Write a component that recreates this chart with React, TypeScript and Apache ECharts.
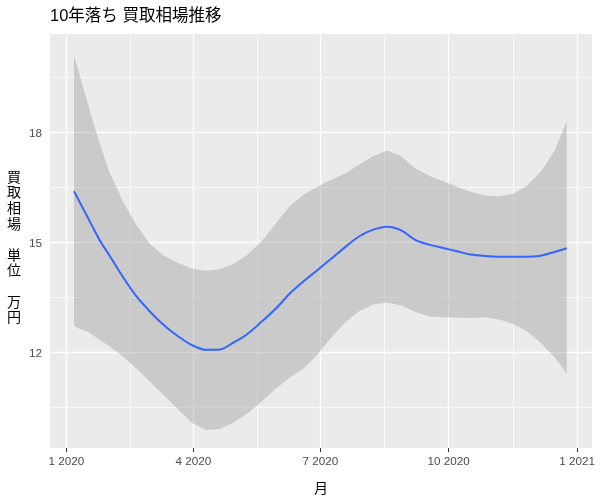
import React, { useEffect, useRef } from "react";
import * as echarts from "echarts";

// Days since 1 Jan 2020
const days = [5.5, 10, 15, 20, 25, 30, 40, 50, 60, 70, 80, 90, 100, 110, 120, 130, 140, 150, 160, 170, 180, 190, 200, 210, 220, 230, 240, 250, 260, 270, 280, 290, 300, 310, 320, 330, 340, 350, 358.6];
const fitValues = [16.39, 16.06, 15.70, 15.33, 14.98, 14.69, 14.08, 13.53, 13.10, 12.73, 12.43, 12.19, 12.06, 12.07, 12.26, 12.50, 12.83, 13.18, 13.59, 13.93, 14.24, 14.55, 14.87, 15.16, 15.34, 15.42, 15.32, 15.06, 14.93, 14.84, 14.75, 14.66, 14.62, 14.60, 14.60, 14.60, 14.63, 14.73, 14.83];
const lowerValues = [12.70, 12.63, 12.56, 12.44, 12.31, 12.18, 11.90, 11.56, 11.19, 10.81, 10.44, 10.07, 9.87, 9.90, 10.08, 10.33, 10.65, 11.00, 11.30, 11.55, 11.93, 12.40, 12.81, 13.12, 13.30, 13.35, 13.27, 13.10, 12.97, 12.95, 12.94, 12.93, 12.95, 12.89, 12.77, 12.57, 12.25, 11.85, 11.41];
const upperValues = [20.10, 19.50, 18.83, 18.18, 17.57, 17.00, 16.15, 15.48, 14.95, 14.63, 14.43, 14.28, 14.22, 14.26, 14.41, 14.66, 15.02, 15.50, 15.98, 16.29, 16.51, 16.70, 16.88, 17.12, 17.35, 17.50, 17.34, 17.01, 16.81, 16.67, 16.51, 16.37, 16.27, 16.25, 16.31, 16.54, 16.92, 17.50, 18.30];

const xTickDays = [0, 91, 182, 274, 366];
const xTickLabels = ["1 2020", "4 2020", "7 2020", "10 2020", "1 2021"];
const xMinorDays = [45.5, 136.5, 228, 320];
const yTicks = [12, 15, 18];
const yMinor = [10.5, 13.5, 16.5, 19.5];

const titleText = "10年落ち 買取相場推移";
const xAxisTitle = "月";
const yAxisTitleChars = ["買", "取", "相", "場", "", "単", "位", "", "万", "円"];

const FONT = "'Liberation Sans', Arial, 'Noto Sans CJK JP', sans-serif";

export default function App() {
  const ref = useRef<HTMLDivElement>(null);
  useEffect(() => {
    if (!ref.current) return;
    const chart = echarts.init(ref.current, null, { renderer: "svg" });
    const labelMap: Record<string, string> = {};
    xTickDays.forEach((d, i) => (labelMap[String(d)] = xTickLabels[i]));

    const gridLines: any[] = [];
    xTickDays.forEach((d) => gridLines.push({ xAxis: d, lineStyle: { width: 1.4 } }));
    xMinorDays.forEach((d) => gridLines.push({ xAxis: d, lineStyle: { width: 0.7 } }));
    yTicks.forEach((v) => gridLines.push({ yAxis: v, lineStyle: { width: 1.4 } }));
    yMinor.forEach((v) => gridLines.push({ yAxis: v, lineStyle: { width: 0.7 } }));

    const option: any = {
      animation: false,
      textStyle: { fontFamily: FONT },
      title: {
        text: titleText,
        left: 45,
        top: 2,
        textStyle: { fontSize: 16.5, fontWeight: "normal", color: "#000", fontFamily: FONT },
      },
      grid: {
        left: 50,
        right: 8,
        top: 34,
        bottom: 45,
        show: true,
        backgroundColor: "#EBEBEB",
        borderWidth: 0,
      },
      xAxis: {
        type: "value",
        min: -11.7,
        max: 376.7,
        name: xAxisTitle,
        nameLocation: "middle",
        nameGap: 33,
        nameTextStyle: { color: "#000", fontSize: 14, fontFamily: FONT },
        axisLine: { show: false },
        splitLine: { show: false },
        axisTick: { show: true, length: 4, lineStyle: { color: "#333333", width: 1 }, customValues: xTickDays },
        axisLabel: {
          customValues: xTickDays,
          margin: 7,
          color: "#4D4D4D",
          fontSize: 11.7,
          fontFamily: FONT,
          formatter: (v: number) => labelMap[String(v)] ?? "",
        },
      },
      yAxis: {
        type: "value",
        min: 9.38,
        max: 20.68,
        axisLine: { show: false },
        splitLine: { show: false },
        axisTick: { show: true, length: 4, lineStyle: { color: "#333333", width: 1 }, customValues: yTicks },
        axisLabel: {
          customValues: yTicks,
          margin: 8,
          color: "#4D4D4D",
          fontSize: 11.7,
          fontFamily: FONT,
        },
      },
      graphic: [
        {
          type: "text",
          left: 7,
          top: 169,
          style: {
            text: yAxisTitleChars.join("\n"),
            fontSize: 14,
            lineHeight: 15.6,
            fill: "#000",
            fontFamily: FONT,
          },
        },
      ],
      series: [
        {
          type: "line",
          data: [],
          silent: true,
          z: 1,
          markLine: {
            silent: true,
            symbol: "none",
            z: 1,
            label: { show: false },
            lineStyle: { color: "#FFFFFF", type: "solid" },
            data: gridLines,
          },
        },
        {
          type: "custom",
          z: 2,
          silent: true,
          data: [[days[0], lowerValues[0]]],
          renderItem: (params: any, api: any) => {
            const pts: number[][] = [];
            for (let i = 0; i < days.length; i++) pts.push(api.coord([days[i], upperValues[i]]));
            for (let i = days.length - 1; i >= 0; i--) pts.push(api.coord([days[i], lowerValues[i]]));
            return {
              type: "polygon",
              shape: { points: pts, smooth: 0 },
              style: { fill: "rgba(153,153,153,0.4)", stroke: "none" },
            };
          },
        },
        {
          type: "line",
          z: 3,
          showSymbol: false,
          smooth: 0.3,
          lineStyle: { color: "#3366FF", width: 2 },
          data: days.map((d, i) => [d, fitValues[i]]),
        },
      ],
    };
    chart.setOption(option);
    return () => chart.dispose();
  }, []);
  return <div ref={ref} style={{ position: "fixed", left: 0, top: 0, width: 600, height: 500 }} />;
}
